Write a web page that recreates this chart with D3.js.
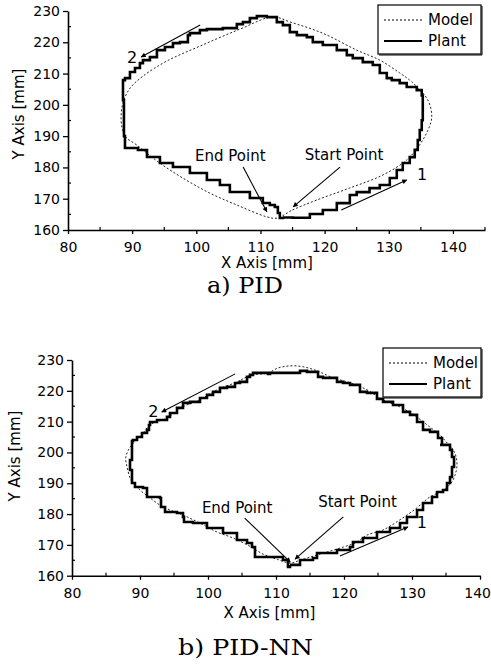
<!DOCTYPE html>
<html><head><meta charset="utf-8">
<script src="https://cdn.jsdelivr.net/npm/d3@7"></script>
<style>body{margin:0;background:#fff}svg{display:block}</style>
</head><body>
<script>
// ---------- DATA ----------
const xTickLabels = [80, 90, 100, 110, 120, 130, 140];
const yTickLabels = [160, 170, 180, 190, 200, 210, 220, 230];
const seriesNames = ["Model", "Plant"];
const panelTitles = ["a) PID", "b) PID-NN"];

// Panel a) PID — Model (reference path)
const pidModelX = [112.6,115.0,118.8,123.9,129.1,132.8,134.8,136.1,136.7,136.1,133.6,131.7,128.6,125.0,119.7,114.6,111.9,106.8,100.6,95.4,91.7,89.7,88.7,88.3,88.4,89.0,90.7,94.3,97.9,102.1,106.3,111.0];
const pidModelY = [163.8,166.4,169.6,173.4,177.6,182.4,187.2,191.9,196.1,201.5,207.3,210.2,214.3,217.5,222.9,226.5,228.1,224.2,218.8,214.0,209.2,205.4,201.5,197.4,192.9,189.7,187.2,181.4,176.6,171.8,168.0,164.2];
// Panel a) PID — Plant (measured path)
const pidPlantX = [113.5,115.05,117.7,117.7,119.72,121.9,123.93,125.0,127.0,127.0,128.6,130.16,131.25,132.18,133.27,134.05,134.52,134.83,135.14,135.3,135.3,135.14,134.36,132.8,131.71,130.47,129.69,128.6,127.51,125.95,124.39,123.46,121.9,119.72,118.16,117.23,115.67,114.58,113.49,112.55,111.0,109.91,109.44,108.35,107.26,106.32,104.14,101.65,100.56,99.0,98.69,97.45,96.36,95.11,93.86,92.77,91.68,91.21,90.44,89.66,88.88,88.57,88.57,88.72,88.72,88.88,90.9,92.31,94.33,96.36,99.0,101.65,103.68,105.23,106.79,108.35,110.37,111.46,112.24,112.71,113.02,113.5];
const pidPlantY = [164.0,163.9,164.15,165.1,166.4,168.6,171.2,172.1,172.1,173.4,174.4,176.6,179.2,181.4,183.3,185.6,188.75,191.95,195.1,199.0,203.0,204.7,205.7,206.96,207.9,208.56,210.16,212.72,213.67,214.95,215.91,217.51,219.11,220.06,221.66,222.3,223.26,225.5,226.45,228.05,228.37,228.37,227.73,226.45,225.81,224.54,224.22,223.9,222.94,222.3,220.06,219.74,218.47,217.51,215.27,214.31,213.35,211.76,210.48,208.56,207.92,205.0,201.5,195.0,190.0,186.2,185.56,183.32,181.41,180.13,178.21,175.97,174.38,172.14,172.14,170.22,168.63,167.99,167.35,165.43,163.83,164.0];

// Panel b) PID-NN — Model
const nnModelX = [112.1,113.5,116.0,119.9,121.9,123.4,125.7,128.2,130.7,132.6,134.6,135.9,136.3,136.6,136.5,136.0,135.0,134.1,132.6,130.7,128.2,125.7,123.4,120.9,118.4,116.0,114.0,112.1,110.3,108.8,106.2,104.3,101.3,98.8,96.3,94.0,91.5,90.4,89.2,88.3,87.9,88.1,88.7,90.0,91.5,93.4,96.3,98.8,101.3,103.7,106.2,108.1,110.2];
const nnModelY = [164.1,165.0,166.7,169.3,170.9,173.2,174.8,178.1,182.0,185.5,187.8,190.5,192.5,195.3,198.5,201.0,203.5,205.7,208.3,211.5,214.8,217.1,220.3,222.6,224.2,226.5,227.8,228.1,227.4,225.8,225.0,222.9,220.3,217.1,214.8,211.2,209.0,206.2,203.5,200.8,198.2,195.3,191.0,187.8,185.2,182.3,179.7,177.1,174.2,172.2,169.5,167.0,165.3];
// Panel b) PID-NN — Plant
const nnPlantX = [112.06,113.53,115.44,116.03,118.97,120.88,121.32,122.79,124.85,126.76,128.24,129.26,130.74,131.62,132.94,133.68,134.56,135.15,135.59,135.88,136.18,135.88,135.59,134.12,134.41,133.82,132.65,131.62,130.74,129.71,128.68,127.21,125.74,124.85,123.38,122.35,120.88,119.85,118.97,116.91,116.18,114.56,113.53,113.53,109.12,108.82,106.62,106.18,105.74,104.71,103.97,102.79,101.76,100.74,99.85,98.82,97.35,96.32,95.44,94.41,93.97,92.50,91.47,91.32,91.03,90.29,89.56,88.97,88.82,88.82,88.53,88.82,89.26,90.44,91.03,92.94,93.09,93.68,95.44,96.32,96.47,97.79,99.85,102.21,104.26,105.74,106.47,106.91,109.12,111.03,111.76,112.06];
const nnPlantY = [163.5,165.10,165.75,167.37,168.34,169.32,170.94,172.24,174.19,175.49,177.11,179.06,181.33,183.60,185.55,187.18,187.82,190.10,192.05,195.29,198.54,200.81,202.44,202.44,204.71,206.66,207.31,209.90,212.18,213.15,215.42,216.40,217.37,219.32,219.64,221.92,222.56,222.89,224.19,224.51,226.14,226.46,226.46,225.81,225.49,225.81,225.16,224.51,222.89,222.56,221.27,220.94,219.64,218.67,217.69,216.40,216.07,214.45,212.82,211.53,210.55,209.90,208.93,207.31,206.33,205.03,204.06,203.73,200.81,197.56,194.31,190.10,188.80,188.47,185.55,185.23,182.31,180.68,180.36,179.06,177.44,177.11,175.49,173.86,171.59,170.62,169.32,166.07,166.07,165.10,162.83,163.5];

// Annotation labels and arrows (data units: [x1,y1,x2,y2], arrow head at x2,y2)
const annoLabels = ["End Point", "Start Point", "1", "2"];
const pidLabelPos = [[99.8,182.0],[116.9,182.4],[134.4,176.0],[89.2,213.4]];
const pidArrows = [[107.3,180.1,111.0,165.8],[122.4,180.1,115.1,167.4],[122.6,166.4,132.8,176.0],[100.6,225.5,91.4,215.3]];
const nnLabelPos = [[99.1,180.4],[116.2,182.3],[130.7,175.5],[91.2,211.5]];
const nnArrows = [[105.4,178.7,112.1,164.4],[119.9,179.1,112.8,165.4],[119.4,166.4,129.4,175.8],[104.0,225.5,93.2,213.1]];

// ---------- DRAW ----------
const W = 491, H = 670;
const svg = d3.select("body").append("svg").attr("width", W).attr("height", H);
svg.append("rect").attr("width", W).attr("height", H).attr("fill", "#fff");
const defs = svg.append("defs");
defs.append("marker").attr("id", "ah").attr("viewBox", "0 0 10 10")
  .attr("refX", 9).attr("refY", 5).attr("markerWidth", 7).attr("markerHeight", 5)
  .attr("markerUnits", "userSpaceOnUse").attr("orient", "auto")
  .append("path").attr("d", "M0,0L10,5L0,10Z").attr("fill", "#000");

const sans = "DejaVu Sans, Arial, sans-serif";

const panels = [
  {xDom:[80,145], xR:[68,485], yR:[230,11], modelX:pidModelX, modelY:pidModelY, plantX:pidPlantX, plantY:pidPlantY,
   labels:pidLabelPos, arrows:pidArrows, title:panelTitles[0], titleX:245, titleY:293, titleLen:76,
   xTitle:[267,268], yTitle:[19,114], legend:[378,5,103,49], lastShift:false},
  {xDom:[80,140], xR:[72,480], yR:[575.7,360], modelX:nnModelX, modelY:nnModelY, plantX:nnPlantX, plantY:nnPlantY,
   labels:nnLabelPos, arrows:nnArrows, title:panelTitles[1], titleX:245.5, titleY:655, titleLen:135,
   xTitle:[269.5,618], yTitle:[15,456], legend:[383,348,98,49], lastShift:true}
];

panels.forEach(p => {
  const x = d3.scaleLinear().domain(p.xDom).range(p.xR);
  const y = d3.scaleLinear().domain([160,230]).range(p.yR);
  const g = svg.append("g");
  const x0 = p.xR[0], y0 = p.yR[0];

  // minor ticks
  const xMinor = d3.range(85, p.xDom[1] + 0.1, 10);
  const yMinor = d3.range(165, 230, 10);
  g.selectAll(".xm").data(xMinor).join("line")
    .attr("x1", d => x(d)).attr("x2", d => x(d)).attr("y1", y0).attr("y2", y0 - 3)
    .attr("stroke", "#000").attr("stroke-width", 1.2);
  g.selectAll(".ym").data(yMinor).join("line")
    .attr("x1", x0).attr("x2", x0 + 3).attr("y1", d => y(d)).attr("y2", d => y(d))
    .attr("stroke", "#000").attr("stroke-width", 1.2);

  const xa = g.append("g").attr("transform", `translate(0,${y0})`)
    .call(d3.axisBottom(x).tickValues(xTickLabels).tickSize(4).tickSizeOuter(0).tickPadding(8).tickFormat(d3.format("d")));
  const ya = g.append("g").attr("transform", `translate(${x0},0)`)
    .call(d3.axisLeft(y).tickValues(yTickLabels).tickSize(5).tickSizeOuter(0).tickPadding(3).tickFormat(d3.format("d")));
  [xa, ya].forEach(a => {
    a.select(".domain").attr("stroke-width", 1.6);
    a.selectAll(".tick line").attr("stroke-width", 1.3);
    a.selectAll("text").attr("font-family", sans).attr("font-size", 14).attr("fill", "#000");
  });
  if (p.lastShift) {
    xa.selectAll(".tick text").filter(d => d === 140).attr("text-anchor", "end").attr("x", 10.5);
  }

  // axis titles
  g.append("text").attr("x", p.xTitle[0]).attr("y", p.xTitle[1]).attr("text-anchor", "middle")
    .attr("font-family", sans).attr("font-size", 15).text("X Axis [mm]");
  g.append("text").attr("transform", `translate(${p.yTitle[0]},${p.yTitle[1]}) rotate(-90)`)
    .attr("text-anchor", "middle").attr("dy", "0.35em")
    .attr("font-family", sans).attr("font-size", 15).text("Y Axis [mm]");

  // curves
  const model = d3.zip(p.modelX, p.modelY);
  const plant = d3.zip(p.plantX, p.plantY);
  g.append("path").attr("d", d3.line().x(d => x(d[0])).y(d => y(d[1])).curve(d3.curveCatmullRomClosed)(model))
    .attr("fill", "none").attr("stroke", "#222").attr("stroke-width", 1).attr("stroke-dasharray", "2,2");
  g.append("path").attr("d", d3.line().x(d => x(d[0])).y(d => y(d[1])).curve(d3.curveStepAfter)(plant))
    .attr("fill", "none").attr("stroke", "#000").attr("stroke-width", 2.6).attr("stroke-linejoin", "miter");

  // annotations
  p.arrows.forEach(a => {
    g.append("line").attr("x1", x(a[0])).attr("y1", y(a[1])).attr("x2", x(a[2])).attr("y2", y(a[3]))
      .attr("stroke", "#000").attr("stroke-width", 1.1).attr("marker-end", "url(#ah)");
  });
  p.labels.forEach((l, i) => {
    g.append("text").attr("x", x(l[0])).attr("y", y(l[1])).attr("font-family", sans)
      .attr("font-size", i < 2 ? 15 : 16).text(annoLabels[i]);
  });

  // legend
  const [lx, ly, lw, lh] = p.legend;
  const lg = g.append("g");
  lg.append("rect").attr("x", lx).attr("y", ly).attr("width", lw).attr("height", lh)
    .attr("fill", "#fff").attr("stroke", "#000").attr("stroke-width", 1.2);
  lg.append("line").attr("x1", lx + 1).attr("x2", lx + lw + 1).attr("y1", ly + lh + 1).attr("y2", ly + lh + 1)
    .attr("stroke", "#000").attr("stroke-width", 1);
  lg.append("line").attr("x1", lx + lw + 1).attr("x2", lx + lw + 1).attr("y1", ly + 1).attr("y2", ly + lh + 1)
    .attr("stroke", "#000").attr("stroke-width", 1);
  seriesNames.forEach((s, i) => {
    const yy = ly + 15 + i * 21;
    lg.append("line").attr("x1", lx + 6).attr("x2", lx + 44).attr("y1", yy).attr("y2", yy)
      .attr("stroke", "#000").attr("stroke-width", i === 0 ? 1 : 2.2)
      .attr("stroke-dasharray", i === 0 ? "2,2" : null);
    lg.append("text").attr("x", lx + 50).attr("y", yy).attr("dy", "0.35em")
      .attr("font-family", sans).attr("font-size", 15).text(s);
  });

  // panel caption
  g.append("text").attr("x", p.titleX).attr("y", p.titleY).attr("text-anchor", "middle")
    .attr("font-family", "DejaVu Serif, Liberation Serif, serif").attr("font-size", 22)
    .attr("textLength", p.titleLen).attr("lengthAdjust", "spacingAndGlyphs").text(p.title);
});
</script>
</body></html>
